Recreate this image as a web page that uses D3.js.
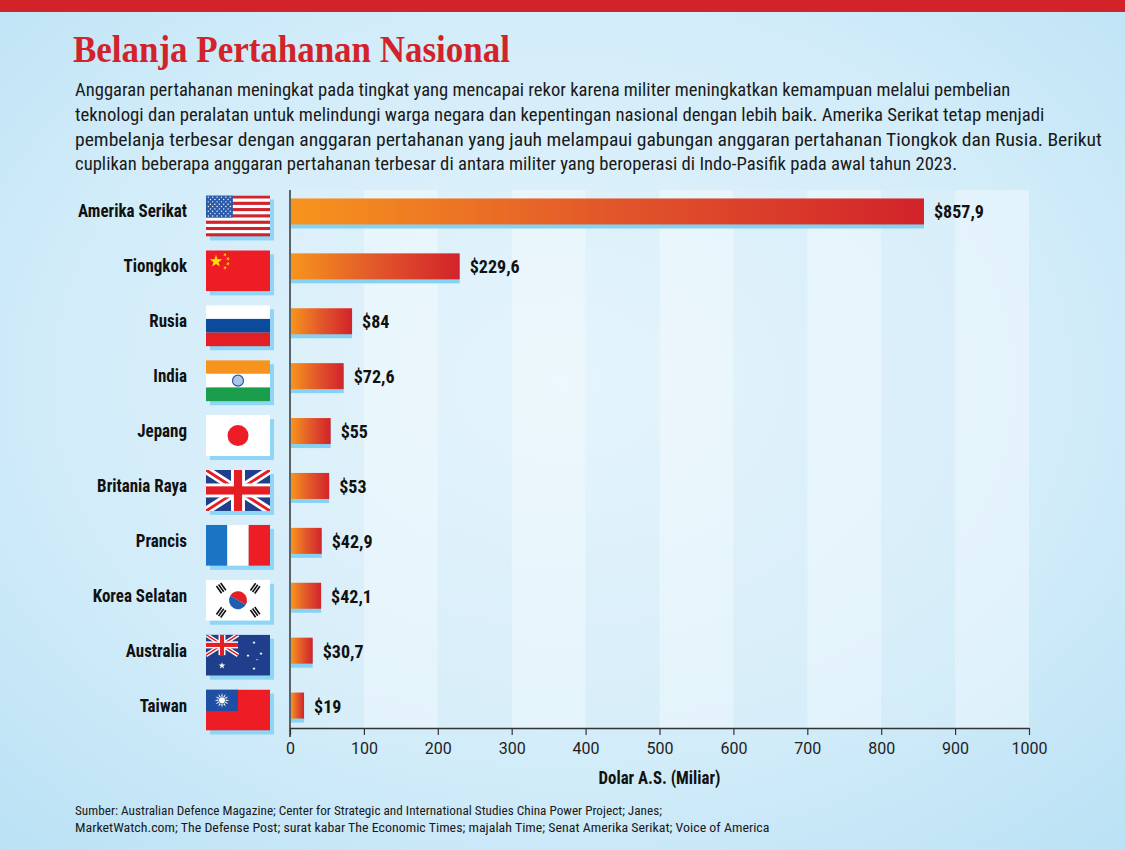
<!DOCTYPE html>
<html lang="id">
  <head>
    <meta charset="utf-8" />
    <title>Belanja Pertahanan Nasional</title>
    <script src="https://d3js.org/d3.v7.min.js"></script>
    <style type="text/css">
      body {
        margin: 0;
        padding: 0;
        background: #ffffff;
      }
      .cond {
        font-family: "Liberation Sans Narrow", "Roboto Condensed", Roboto, "Liberation Sans", sans-serif;
      }
      .axis text {
        font-family: "Liberation Sans Narrow", Roboto, "Liberation Sans", sans-serif;
        font-size: 17px;
        fill: #222;
      }
      .axis line,
      .axis path {
        stroke: #333;
      }
    </style>
  </head>
  <body>
    <script type="text/javascript">
      // Data
      var countries = ["Amerika Serikat", "Tiongkok", "Rusia", "India", "Jepang",
        "Britania Raya", "Prancis", "Korea Selatan", "Australia", "Taiwan"];
      var values = [857.9, 229.6, 84, 72.6, 55, 53, 42.9, 42.1, 30.7, 19];
      var valueLabels = ["$857,9", "$229,6", "$84", "$72,6", "$55", "$53",
        "$42,9", "$42,1", "$30,7", "$19"];
      var flagCodes = ["us", "cn", "ru", "in", "jp", "gb", "fr", "kr", "au", "tw"];
      var tickValues = [0, 100, 200, 300, 400, 500, 600, 700, 800, 900, 1000];

      var title = "Belanja Pertahanan Nasional";
      var intro = [
        "Anggaran pertahanan meningkat pada tingkat yang mencapai rekor karena militer meningkatkan kemampuan melalui pembelian",
        "teknologi dan peralatan untuk melindungi warga negara dan kepentingan nasional dengan lebih baik. Amerika Serikat tetap menjadi",
        "pembelanja terbesar dengan anggaran pertahanan yang jauh melampaui gabungan anggaran pertahanan Tiongkok dan Rusia. Berikut",
        "cuplikan beberapa anggaran pertahanan terbesar di antara militer yang beroperasi di Indo-Pasifik pada awal tahun 2023."
      ];
      var sources = [
        "Sumber: Australian Defence Magazine; Center for Strategic and International Studies China Power Project; Janes;",
        "MarketWatch.com; The Defense Post; surat kabar The Economic Times; majalah Time; Senat Amerika Serikat; Voice of America"
      ];
      var axisTitle = "Dolar A.S. (Miliar)";

      //Width and height
      var w = 1125;
      var h = 850;

      var svg = d3
        .select("body")
        .append("svg")
        .attr("width", w)
        .attr("height", h);

      var defs = svg.append("defs");

      // squeeze a text horizontally (no condensed font installed)
      // width: target width, or null to use factor k
      function squeeze(sel, k) {
        sel.each(function () {
          var t = d3.select(this);
          var x = +t.attr("x") || 0, y = +t.attr("y") || 0;
          t.attr("x", 0).attr("y", 0)
            .attr("transform", "translate(" + x + "," + y + ") scale(" + k + ",1)");
        });
      }
      function fitTo(sel, widths) {
        sel.each(function (d, i) {
          var len = this.getComputedTextLength();
          squeeze(d3.select(this), widths[i] / len);
        });
      }
      function factorFor(sel, target) {
        return target / sel.node().getComputedTextLength();
      }

      // background gradient
      var bg = defs.append("radialGradient")
        .attr("id", "bg")
        .attr("cx", "0.5").attr("cy", "0.45").attr("r", "0.75");
      bg.append("stop").attr("offset", "0").attr("stop-color", "#e2f3fc");
      bg.append("stop").attr("offset", "0.6").attr("stop-color", "#d2ecf9");
      bg.append("stop").attr("offset", "1").attr("stop-color", "#b9e1f5");

      // bar gradient
      var barGrad = defs.append("linearGradient")
        .attr("id", "barGrad")
        .attr("x1", "0").attr("x2", "1").attr("y1", "0").attr("y2", "0");
      barGrad.append("stop").attr("offset", "0").attr("stop-color", "#f7941d");
      barGrad.append("stop").attr("offset", "0.5").attr("stop-color", "#e2572a");
      barGrad.append("stop").attr("offset", "1").attr("stop-color", "#d2232a");

      svg.append("rect")
        .attr("width", w).attr("height", h)
        .attr("fill", "url(#bg)");

      svg.append("rect")
        .attr("width", w).attr("height", 12)
        .attr("fill", "#d2232a");

      // Title and intro
      var titleText = svg.append("text")
        .attr("x", 73).attr("y", 62)
        .style("font-family", "'Liberation Serif', 'DejaVu Serif', serif")
        .style("font-weight", "bold")
        .style("font-size", "37px")
        .attr("fill", "#d2232a")
        .text(title);
      fitTo(titleText, [437]);

      var introEnds = [1011, 1045, 1103, 958];
      var introText = svg.selectAll(".intro")
        .data(intro)
        .enter()
        .append("text")
        .attr("class", "intro cond")
        .attr("x", 75)
        .attr("y", function (d, i) { return 96 + i * 24.8; })
        .style("font-size", "17.5px")
        .attr("fill", "#1a1a1a")
        .text(function (d) { return d; });
      fitTo(introText, introEnds.map(function (e) { return e - 75; }));

      // Scales
      var xScale = d3.scaleLinear().domain([0, 1000]).range([290, 1029]);
      var yScale = d3.scaleBand().domain(countries).range([184, 733]);
      var barH = 26;

      function cy(d) {
        return yScale(d) + yScale.bandwidth() / 2;
      }

      // alternating bands
      var bands = d3.range(0, 1000, 100);
      svg.selectAll(".band")
        .data(bands)
        .enter()
        .append("rect")
        .attr("class", "band")
        .attr("x", function (d) { return xScale(d); })
        .attr("y", 190)
        .attr("width", xScale(100) - xScale(0))
        .attr("height", 728 - 190)
        .attr("fill", "#ffffff")
        .attr("fill-opacity", function (d, i) { return i % 2 ? 0.38 : 0.1; });

      // x axis
      var xAxis = d3.axisBottom(xScale)
        .tickValues(tickValues)
        .tickFormat(d3.format("d"))
        .tickSize(7)
        .tickSizeOuter(0)
        .tickPadding(7);
      var gx = svg.append("g")
        .attr("class", "axis")
        .attr("transform", "translate(0,728)")
        .call(xAxis);
      gx.select(".domain").attr("stroke-width", 1.5);
      gx.selectAll(".tick line").attr("stroke-width", 1.2);
      var tickText = gx.selectAll(".tick text");
      var kTick = factorFor(gx.selectAll(".tick text").filter(function (d) { return d === 1000; }), 36);
      tickText.each(function () {
        var t = d3.select(this);
        var y = +t.attr("y");
        t.attr("y", 0).attr("transform", "translate(0," + y + ") scale(" + kTick + ",1)");
      });

      // y axis line
      svg.append("line")
        .attr("x1", xScale(0)).attr("x2", xScale(0))
        .attr("y1", 190).attr("y2", 737)
        .attr("stroke", "#333")
        .attr("stroke-width", 1.5);

      var axisTitleText = svg.append("text")
        .attr("class", "cond")
        .attr("x", (xScale(0) + xScale(1000)) / 2)
        .attr("y", 784)
        .attr("text-anchor", "middle")
        .style("font-size", "17.5px")
        .style("font-weight", "bold")
        .attr("fill", "#111")
        .text(axisTitle);
      fitTo(axisTitleText, [122]);

      // bars: shadow then bar
      var rows = svg.selectAll(".row")
        .data(countries)
        .enter()
        .append("g")
        .attr("class", "row");

      rows.append("rect")
        .attr("x", xScale(0) + 1)
        .attr("y", function (d) { return cy(d) - barH / 2 + 4; })
        .attr("width", function (d, i) { return xScale(values[i]) - xScale(0) - 1; })
        .attr("height", barH)
        .attr("fill", "#84d2f4");

      rows.append("rect")
        .attr("x", xScale(0) + 1)
        .attr("y", function (d) { return cy(d) - barH / 2; })
        .attr("width", function (d, i) { return xScale(values[i]) - xScale(0) - 1; })
        .attr("height", barH)
        .attr("fill", "url(#barGrad)");

      var valText = rows.append("text")
        .attr("class", "cond")
        .attr("x", function (d, i) { return xScale(values[i]) + 10; })
        .attr("y", function (d) { return cy(d) + 7; })
        .style("font-size", "18.5px")
        .style("font-weight", "bold")
        .attr("fill", "#111")
        .text(function (d, i) { return valueLabels[i]; });
      squeeze(valText, factorFor(valText, 50));

      // country names
      var nameText = rows.append("text")
        .attr("class", "cond")
        .attr("x", 187)
        .attr("y", function (d) { return cy(d) + 6; })
        .attr("text-anchor", "end")
        .style("font-size", "17.5px")
        .style("font-weight", "bold")
        .attr("fill", "#111")
        .text(function (d) { return d; });
      squeeze(nameText, factorFor(nameText, 109));

      // Flags
      var fw = 64, fh = 41;

      function star(cx, cy, r, rot) {
        var pts = [];
        for (var k = 0; k < 10; k++) {
          var rr = k % 2 ? r * 0.4 : r;
          var a = -Math.PI / 2 + (k * Math.PI) / 5 + (rot || 0);
          pts.push([cx + rr * Math.cos(a), cy + rr * Math.sin(a)]);
        }
        return "M" + pts.join("L") + "Z";
      }

      function unionJack(g, W, H) {
        g.append("rect").attr("width", W).attr("height", H).attr("fill", "#1f3f8c");
        g.append("path").attr("d", "M0,0L" + W + "," + H + "M" + W + ",0L0," + H)
          .attr("stroke", "#fff").attr("stroke-width", H * 0.2);
        g.append("path").attr("d", "M0,0L" + W + "," + H + "M" + W + ",0L0," + H)
          .attr("stroke", "#e31e24").attr("stroke-width", H * 0.07);
        g.append("rect").attr("x", W / 2 - H * 0.17).attr("width", H * 0.34).attr("height", H).attr("fill", "#fff");
        g.append("rect").attr("y", H * 0.33).attr("width", W).attr("height", H * 0.34).attr("fill", "#fff");
        g.append("rect").attr("x", W / 2 - H * 0.1).attr("width", H * 0.2).attr("height", H).attr("fill", "#e31e24");
        g.append("rect").attr("y", H * 0.4).attr("width", W).attr("height", H * 0.2).attr("fill", "#e31e24");
      }

      function drawFlag(g, code, id) {
        defs.append("clipPath").attr("id", "clip-" + id)
          .append("rect").attr("width", fw).attr("height", fh);
        var f = g.append("g").attr("clip-path", "url(#clip-" + id + ")");
        if (code === "us") {
          for (var s = 0; s < 13; s++) {
            f.append("rect").attr("y", (s * fh) / 13).attr("width", fw).attr("height", fh / 13 + 0.2)
              .attr("fill", s % 2 ? "#ffffff" : "#d2232a");
          }
          f.append("rect").attr("width", fw * 0.42).attr("height", (fh * 7) / 13).attr("fill", "#2b5aa8");
          for (var r = 0; r < 9; r++) {
            for (var c = 0; c < (r % 2 ? 5 : 6); c++) {
              f.append("circle")
                .attr("cx", 2.3 + c * 4.4 + (r % 2 ? 2.2 : 0))
                .attr("cy", 1.7 + r * 2.35)
                .attr("r", 0.7).attr("fill", "#fff");
            }
          }
        } else if (code === "cn") {
          f.append("rect").attr("width", fw).attr("height", fh).attr("fill", "#ee1c25");
          f.append("path").attr("d", star(10, 11, 6.5)).attr("fill", "#ffde00");
          [[19, 4.5], [22, 8.5], [22, 13.5], [19, 17.5]].forEach(function (p) {
            f.append("path").attr("d", star(p[0], p[1], 2, 0.4)).attr("fill", "#ffde00");
          });
        } else if (code === "ru") {
          f.append("rect").attr("width", fw).attr("height", fh / 3).attr("fill", "#fff");
          f.append("rect").attr("y", fh / 3).attr("width", fw).attr("height", fh / 3).attr("fill", "#0c4b9b");
          f.append("rect").attr("y", (fh * 2) / 3).attr("width", fw).attr("height", fh / 3 + 0.5).attr("fill", "#e31e24");
        } else if (code === "in") {
          f.append("rect").attr("width", fw).attr("height", fh / 3).attr("fill", "#f7941d");
          f.append("rect").attr("y", fh / 3).attr("width", fw).attr("height", fh / 3).attr("fill", "#fff");
          f.append("rect").attr("y", (fh * 2) / 3).attr("width", fw).attr("height", fh / 3 + 0.5).attr("fill", "#1a9e4b");
          f.append("circle").attr("cx", fw / 2).attr("cy", fh / 2).attr("r", 5.5)
            .attr("fill", "#a8c8e8").attr("stroke", "#2b5aa8").attr("stroke-width", 1.2);
        } else if (code === "jp") {
          f.append("rect").attr("width", fw).attr("height", fh).attr("fill", "#fff");
          f.append("circle").attr("cx", fw / 2).attr("cy", fh / 2).attr("r", 10.5).attr("fill", "#ee1c25");
        } else if (code === "gb") {
          unionJack(f, fw, fh);
        } else if (code === "fr") {
          f.append("rect").attr("width", fw / 3).attr("height", fh).attr("fill", "#1b75c4");
          f.append("rect").attr("x", fw / 3).attr("width", fw / 3).attr("height", fh).attr("fill", "#fff");
          f.append("rect").attr("x", (fw * 2) / 3).attr("width", fw / 3 + 0.5).attr("height", fh).attr("fill", "#ee1c25");
        } else if (code === "kr") {
          f.append("rect").attr("width", fw).attr("height", fh).attr("fill", "#fff");
          var kx = fw / 2, ky = fh / 2, kr = 9;
          f.append("path")
            .attr("d", "M" + (kx - kr) + "," + ky + "A" + kr + "," + kr + " 0 0,1 " + (kx + kr) + "," + ky + "Z")
            .attr("transform", "rotate(30," + kx + "," + ky + ")")
            .attr("fill", "#e31e24");
          f.append("path")
            .attr("d", "M" + (kx - kr) + "," + ky + "A" + kr + "," + kr + " 0 0,0 " + (kx + kr) + "," + ky + "Z")
            .attr("transform", "rotate(30," + kx + "," + ky + ")")
            .attr("fill", "#1f5fb0");
          [[-17, -12, -35], [17, -12, 35], [-17, 12, 35], [17, 12, -35]].forEach(function (t) {
            var tg = f.append("g")
              .attr("transform", "translate(" + (kx + t[0]) + "," + (ky + t[1]) + ") rotate(" + (t[2] + 90) + ")");
            for (var b = 0; b < 3; b++) {
              tg.append("rect").attr("x", -4.5).attr("y", -3.6 + b * 2.6)
                .attr("width", 9).attr("height", 1.6).attr("fill", "#111");
            }
          });
        } else if (code === "au") {
          f.append("rect").attr("width", fw).attr("height", fh).attr("fill", "#1f3f8c");
          var canton = f.append("g");
          unionJack(canton, fw / 2, fh / 2);
          f.append("path").attr("d", star(16, 31, 3.5)).attr("fill", "#fff");
          [[48, 8, 1.8], [55, 19, 1.8], [42, 21, 1.8], [48, 34, 1.8], [51, 25, 1]].forEach(function (p) {
            f.append("path").attr("d", star(p[0], p[1], p[2])).attr("fill", "#fff");
          });
        } else if (code === "tw") {
          f.append("rect").attr("width", fw).attr("height", fh).attr("fill", "#ee1c25");
          f.append("rect").attr("width", fw / 2).attr("height", fh / 2 + 1).attr("fill", "#1f4fa3");
          var sx = fw / 4, sy = fh / 4 + 0.5;
          for (var k = 0; k < 12; k++) {
            var a = (k * Math.PI) / 6;
            f.append("path")
              .attr("d", "M" + (sx + 3.5 * Math.cos(a - 0.25)) + "," + (sy + 3.5 * Math.sin(a - 0.25)) +
                "L" + (sx + 7.5 * Math.cos(a)) + "," + (sy + 7.5 * Math.sin(a)) +
                "L" + (sx + 3.5 * Math.cos(a + 0.25)) + "," + (sy + 3.5 * Math.sin(a + 0.25)) + "Z")
              .attr("fill", "#fff");
          }
          f.append("circle").attr("cx", sx).attr("cy", sy).attr("r", 3.6)
            .attr("fill", "#fff").attr("stroke", "#1f4fa3").attr("stroke-width", 0.8);
        }
      }

      rows.each(function (d, i) {
        var g = d3.select(this).append("g")
          .attr("transform", "translate(206," + (cy(d) - 16) + ")");
        g.append("rect")
          .attr("x", 4).attr("y", 4)
          .attr("width", fw).attr("height", fh)
          .attr("fill", "#8fd5f5");
        drawFlag(g, flagCodes[i], "f" + i);
      });

      // Sources
      var srcEnds = [662, 770];
      var srcText = svg.selectAll(".src")
        .data(sources)
        .enter()
        .append("text")
        .attr("class", "src cond")
        .attr("x", 75)
        .attr("y", function (d, i) { return 815 + i * 17; })
        .style("font-size", "12.5px")
        .attr("fill", "#1a1a1a")
        .text(function (d) { return d; });
      fitTo(srcText, srcEnds.map(function (e) { return e - 75; }));
    </script>
  </body>
</html>
